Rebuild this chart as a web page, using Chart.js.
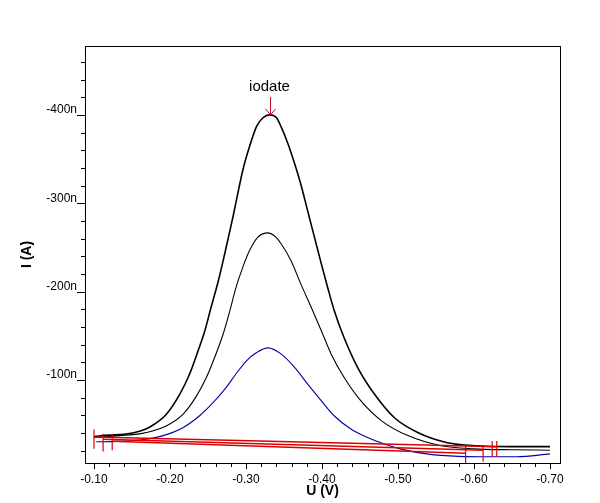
<!DOCTYPE html>
<html>
<head>
<meta charset="utf-8">
<script src="https://cdn.jsdelivr.net/npm/chart.js"></script>
<style>
  body { margin: 0; background: #fff; }
  #wrap { width: 600px; height: 503px; }
</style>
</head>
<body>
<div id="wrap"><canvas id="voltChart" width="600" height="503"></canvas></div>
<script>
// tick labels
const xMajor = [-0.10, -0.20, -0.30, -0.40, -0.50, -0.60, -0.70];
const yMajor = [-100, -200, -300, -400];

// largest peak (black)
const uLarge = [-0.100, -0.120, -0.140, -0.160, -0.173, -0.195, -0.213, -0.226, -0.237, -0.246, -0.254, -0.263, -0.270, -0.276, -0.283, -0.289, -0.296, -0.305, -0.314, -0.322, -0.331, -0.340, -0.346, -0.355, -0.364, -0.372, -0.381, -0.390, -0.399, -0.408, -0.416, -0.429, -0.447, -0.469, -0.495, -0.526, -0.565, -0.605, -0.650, -0.700];
const iLarge = [-36, -37.5, -38.5, -42, -46.5, -61, -84, -107, -133, -156, -182, -210, -235, -258, -285, -310, -338, -365, -387, -396.5, -400, -397, -387, -368, -345, -322, -292, -262, -232, -203, -179, -148, -114, -84, -57.5, -40.5, -29, -25.5, -24.5, -24.5];

// middle peak (black)
const uMedium = [-0.100, -0.120, -0.140, -0.160, -0.195, -0.217, -0.235, -0.248, -0.259, -0.270, -0.279, -0.287, -0.296, -0.305, -0.316, -0.329, -0.337, -0.346, -0.359, -0.372, -0.386, -0.399, -0.412, -0.429, -0.451, -0.478, -0.513, -0.557, -0.600, -0.650, -0.700];
const iMedium = [-35, -36, -37.5, -39, -48, -61, -82, -103, -126, -152, -179, -205, -228, -247, -262, -266.5, -263.5, -254.5, -235.5, -209, -182, -156, -129.5, -103, -76.5, -54, -37, -25.5, -22, -21, -20.5];

// smallest peak (blue)
const uSmall = [-0.103, -0.130, -0.160, -0.191, -0.217, -0.239, -0.257, -0.274, -0.287, -0.301, -0.314, -0.329, -0.346, -0.364, -0.381, -0.399, -0.416, -0.438, -0.460, -0.482, -0.504, -0.540, -0.580, -0.620, -0.656, -0.700];
const iSmall = [-30, -30.5, -32, -37, -46, -59.5, -74.5, -91.5, -107, -122, -131, -136.3, -129.5, -114.3, -95.5, -76.5, -59.5, -44.4, -34.8, -27.4, -21.7, -16, -13.5, -13, -13, -16.3];

// baselines (red)
const uBaseA = [-0.100, -0.630], iBaseA = [-35.5, -24.5];
const uBaseB = [-0.112, -0.612], iBaseB = [-33, -20.5];
const uBaseC = [-0.124, -0.589], iBaseC = [-30.5, -17];

// baseline end markers (red)
const uMarker = [-0.100, -0.112, -0.124, -0.589, -0.612, -0.624, -0.630];
const iMarkerTop = [-44, -39, -38.5, -26.5, -26.5, -31, -31];
const iMarkerBottom = [-22, -19, -20.5, -5.5, -7.5, -13, -13];

const peakLabel = 'iodate';
const peakU = -0.332, peakI = -400;

function pts(u, i) {
  return u.map((v, k) => ({x: v, y: i[k]}));
}

const markerPts = [];
uMarker.forEach((v, k) => {
  markerPts.push({x: v, y: iMarkerTop[k]}, {x: v, y: iMarkerBottom[k]}, {x: v, y: null});
});

const frame = {
  id: 'frame',
  afterDraw(chart) {
    const {ctx, chartArea: a, scales: {x, y}} = chart;
    ctx.save();
    ctx.strokeStyle = '#000';
    ctx.lineWidth = 1;
    ctx.strokeRect(a.left + 0.5, a.top + 0.5, a.right - a.left, a.bottom - a.top);
    ctx.beginPath();
    // x ticks every 0.02
    for (let k = 10; k <= 70; k += 2) {
      const px = Math.round(x.getPixelForValue(-k / 100)) + 0.5;
      const len = k % 10 === 0 ? 6 : 4;
      ctx.moveTo(px, a.bottom);
      ctx.lineTo(px, a.bottom + len);
    }
    // y ticks every 20n
    for (let n = 20; n <= 460; n += 20) {
      const py = Math.round(y.getPixelForValue(-n)) + 0.5;
      const len = n % 100 === 0 ? 8 : 4;
      ctx.moveTo(a.left, py);
      ctx.lineTo(a.left - len, py);
    }
    ctx.stroke();

    // peak annotation
    const ax = Math.round(x.getPixelForValue(peakU)) + 0.5;
    const ay = y.getPixelForValue(peakI);
    ctx.fillStyle = '#000';
    ctx.font = '15px Arial, "Liberation Sans", sans-serif';
    ctx.textAlign = 'center';
    ctx.textBaseline = 'middle';
    ctx.fillText(peakLabel, ax - 1, ay - 28);
    ctx.strokeStyle = '#c0102a';
    ctx.beginPath();
    ctx.moveTo(ax, ay - 18);
    ctx.lineTo(ax, ay);
    ctx.moveTo(ax - 5, ay - 6);
    ctx.lineTo(ax, ay);
    ctx.lineTo(ax + 5, ay - 6);
    ctx.stroke();
    ctx.restore();
  }
};

const red = 'rgb(220, 0, 0)';

new Chart(document.getElementById('voltChart'), {
  type: 'line',
  data: {
    datasets: [
      { data: markerPts, borderColor: red, borderWidth: 1.2, spanGaps: false },
      { data: pts(uBaseA, iBaseA), borderColor: red, borderWidth: 1.5 },
      { data: pts(uBaseB, iBaseB), borderColor: red, borderWidth: 1.5 },
      { data: pts(uBaseC, iBaseC), borderColor: red, borderWidth: 1.5 },
      { data: pts(uLarge, iLarge), borderColor: '#000', borderWidth: 1.6, cubicInterpolationMode: 'monotone' },
      { data: pts(uMedium, iMedium), borderColor: '#000', borderWidth: 1.1, cubicInterpolationMode: 'monotone' },
      { data: pts(uSmall, iSmall), borderColor: '#0000a8', borderWidth: 1.1, cubicInterpolationMode: 'monotone' }
    ]
  },
  options: {
    responsive: false,
    animation: false,
    elements: { point: { radius: 0 } },
    layout: {
      padding: { left: 0, right: 40, top: 46, bottom: 0 }
    },
    scales: {
      x: {
        type: 'linear',
        reverse: true,
        min: -0.7132,
        max: -0.0882,
        grid: { display: false, drawTicks: false },
        border: { display: false },
        afterBuildTicks: s => { s.ticks = xMajor.map(v => ({value: v})); },
        afterFit: s => { s.height = 40; },
        ticks: {
          autoSkip: false,
          maxRotation: 0,
          padding: 9,
          color: '#000',
          font: { family: 'Arial, "Liberation Sans", sans-serif', size: 12 },
          callback: v => v.toFixed(2)
        },
        title: {
          display: true,
          text: 'U (V)',
          color: '#000',
          padding: { top: 0, bottom: 3 },
          font: { family: 'Arial, "Liberation Sans", sans-serif', size: 14, weight: 'bold' }
        }
      },
      y: {
        type: 'linear',
        reverse: true,
        min: -478,
        max: -6,
        grid: { display: false, drawTicks: false },
        border: { display: false },
        afterBuildTicks: s => { s.ticks = yMajor.map(v => ({value: v})); },
        afterFit: s => { s.width = 85; },
        ticks: {
          autoSkip: false,
          padding: 8,
          labelOffset: -5,
          color: '#000',
          font: { family: 'Arial, "Liberation Sans", sans-serif', size: 12 },
          callback: v => v + 'n'
        },
        title: {
          display: true,
          text: 'I (A)',
          color: '#000',
          padding: { top: 19, bottom: 0 },
          font: { family: 'Arial, "Liberation Sans", sans-serif', size: 14, weight: 'bold' }
        }
      }
    },
    plugins: {
      legend: { display: false },
      tooltip: { enabled: false }
    }
  },
  plugins: [frame]
});
</script>
</body>
</html>
